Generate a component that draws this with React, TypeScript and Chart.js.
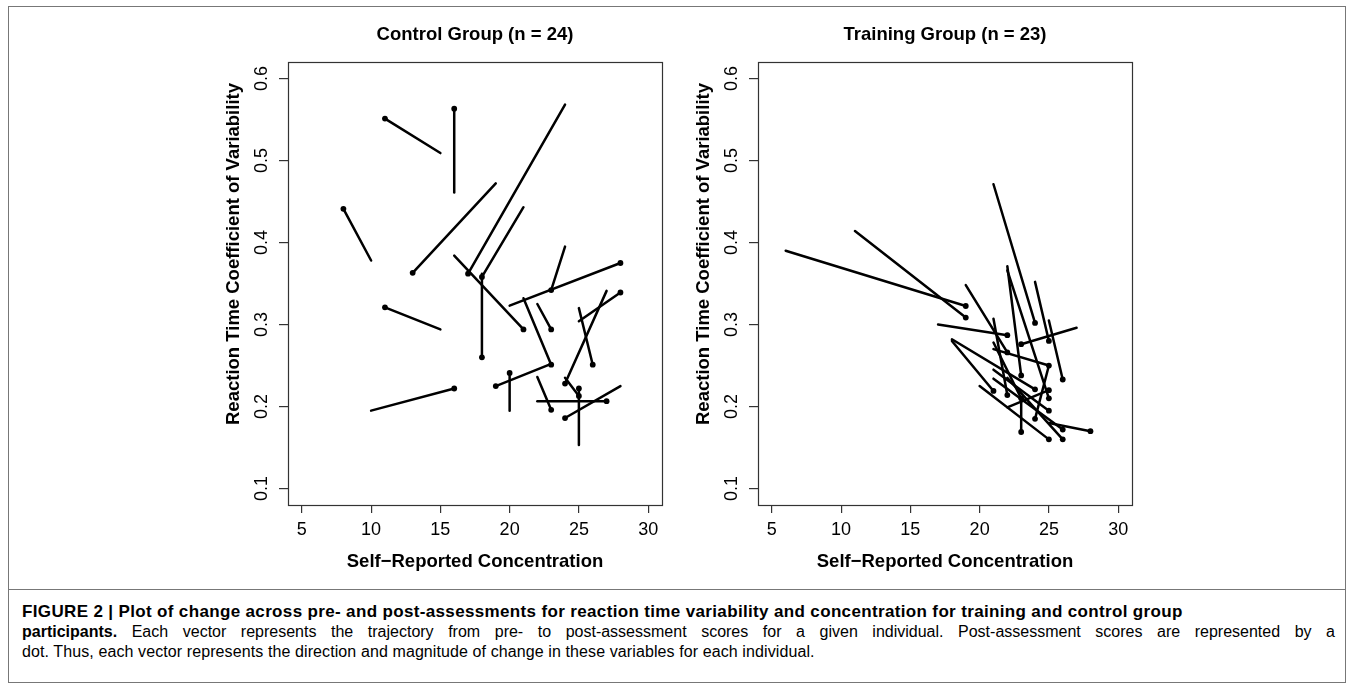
import React, { useEffect, useRef } from "react";
import { Chart, registerables } from "chart.js";

Chart.register(...registerables);

// ---- axis ticks ----
const xTicks = [5, 10, 15, 20, 25, 30];
const yTicks = [0.1, 0.2, 0.3, 0.4, 0.5, 0.6];
const yTickLabels = ["0.1", "0.2", "0.3", "0.4", "0.5", "0.6"];
const xTitle = "Self\u2212Reported Concentration";
const yTitle = "Reaction Time Coefficient of Variability";

// ---- Control group: pre (line start) -> post (dot) ----
const controlPreX = [15, 16, 10, 19, 24, 21, 16, 18, 15, 10, 20, 24, 21, 22, 23, 20, 22, 22, 28, 25, 25, 27, 24, 25];
const controlPreY = [0.509, 0.461, 0.378, 0.472, 0.568, 0.443, 0.384, 0.362, 0.294, 0.195, 0.323, 0.395, 0.332, 0.325, 0.252, 0.195, 0.236, 0.2065, 0.225, 0.304, 0.32, 0.341, 0.235, 0.153];
const controlPostX = [11, 16, 8, 13, 17, 18, 21, 18, 11, 16, 28, 23, 23, 23, 19, 20, 23, 27, 24, 28, 26, 24, 25, 25];
const controlPostY = [0.551, 0.563, 0.441, 0.363, 0.362, 0.358, 0.294, 0.26, 0.321, 0.222, 0.375, 0.342, 0.251, 0.294, 0.225, 0.241, 0.196, 0.2065, 0.186, 0.339, 0.251, 0.228, 0.213, 0.222];

// ---- Training group ----
const trainingPreX = [6, 11, 21, 19, 17, 21, 22, 22, 24, 27, 18, 18, 20, 23, 25, 21, 22, 25, 22, 21, 21, 25, 21];
const trainingPreY = [0.39, 0.414, 0.471, 0.348, 0.3, 0.307, 0.371, 0.366, 0.352, 0.296, 0.28, 0.282, 0.225, 0.21, 0.305, 0.245, 0.235, 0.18, 0.199, 0.234, 0.278, 0.25, 0.27];
const trainingPostX = [19, 19, 24, 22, 22, 22, 23, 25, 25, 23, 21, 24, 25, 23, 26, 25, 26, 28, 25, 26, 23, 24, 25];
const trainingPostY = [0.3226, 0.3085, 0.302, 0.266, 0.287, 0.214, 0.238, 0.21, 0.28, 0.276, 0.219, 0.221, 0.16, 0.169, 0.233, 0.195, 0.16, 0.17, 0.22, 0.172, 0.21, 0.185, 0.25];

const FONT = '"Liberation Sans", Arial, Helvetica, sans-serif';

function makeDatasets(px: number[], py: number[], qx: number[], qy: number[]) {
  return px.map((_, i) => ({
    data: [
      { x: px[i], y: py[i] },
      { x: qx[i], y: qy[i] },
    ],
    showLine: true,
    borderColor: "#000",
    backgroundColor: "#000",
    borderWidth: 2.5,
    borderCapStyle: "round" as const,
    tension: 0,
    pointRadius: [0, 2.9],
    pointBorderWidth: 0,
    pointHoverRadius: 0,
  }));
}

const textPlugin = {
  id: "rtext",
  afterDraw(chart: any) {
    const { ctx, chartArea: ca, scales } = chart;
    const title = chart.options.plugins.rtext.title;
    ctx.save();
    ctx.strokeStyle = "#333";
    ctx.lineWidth = 1.2;
    const l = Math.round(ca.left) + 0.5;
    const t = Math.round(ca.top) + 0.5;
    const r = Math.round(ca.right) + 0.5;
    const b = Math.round(ca.bottom) + 0.5;
    ctx.strokeRect(l, t, r - l, b - t);
    ctx.fillStyle = "#000";
    ctx.textAlign = "center";
    ctx.textBaseline = "middle";
    ctx.font = `18px ${FONT}`;
    xTicks.forEach((v) => {
      ctx.fillText(String(v), scales.x.getPixelForValue(v), ca.bottom + 25);
    });
    yTicks.forEach((v, i) => {
      const yy = scales.y.getPixelForValue(v);
      ctx.save();
      ctx.translate(ca.left - 26, yy);
      ctx.rotate(-Math.PI / 2);
      ctx.fillText(yTickLabels[i], 0, 0);
      ctx.restore();
    });
    ctx.font = `bold 18.5px ${FONT}`;
    const cx = (ca.left + ca.right) / 2;
    ctx.fillText(title, cx, ca.top - 27);
    ctx.fillText(xTitle, cx, ca.bottom + 57);
    ctx.save();
    ctx.translate(ca.left - 54, ca.top + 192);
    ctx.rotate(-Math.PI / 2);
    ctx.fillText(yTitle, 0, 0);
    ctx.restore();
    ctx.restore();
  },
};

function makeConfig(title: string, px: number[], py: number[], qx: number[], qy: number[]): any {
  return {
    type: "scatter",
    data: { datasets: makeDatasets(px, py, qx, qy) },
    plugins: [textPlugin],
    options: {
      responsive: false,
      animation: false,
      events: [],
      layout: { padding: { top: 52, right: 18, left: 0, bottom: 0 } },
      plugins: {
        legend: { display: false },
        tooltip: { enabled: false },
        title: { display: false },
        rtext: { title },
      },
      scales: {
        x: {
          type: "linear",
          min: 4,
          max: 31,
          afterBuildTicks: (s: any) => {
            s.ticks = xTicks.map((v) => ({ value: v }));
          },
          afterFit: (s: any) => {
            s.height = 75;
          },
          ticks: { display: false },
          border: { display: false },
          grid: { display: true, drawOnChartArea: false, drawTicks: true, tickLength: 8, color: "#333", lineWidth: 1.2 },
        },
        y: {
          type: "linear",
          min: 0.08,
          max: 0.62,
          afterBuildTicks: (s: any) => {
            s.ticks = yTicks.map((v) => ({ value: v }));
          },
          afterFit: (s: any) => {
            s.width = 98;
          },
          ticks: { display: false },
          border: { display: false },
          grid: { display: true, drawOnChartArea: false, drawTicks: true, tickLength: 9, color: "#333", lineWidth: 1.2 },
        },
      },
    },
  };
}

function Panel(props: { left: number; title: string; px: number[]; py: number[]; qx: number[]; qy: number[] }) {
  const ref = useRef<HTMLCanvasElement>(null);
  useEffect(() => {
    if (!ref.current) return;
    const chart = new Chart(ref.current, makeConfig(props.title, props.px, props.py, props.qx, props.qy));
    return () => chart.destroy();
  }, []);
  return (
    <canvas
      ref={ref}
      width={490}
      height={570}
      style={{ position: "absolute", left: props.left, top: 10, width: 490, height: 570 }}
    />
  );
}

const lineStyle: React.CSSProperties = { whiteSpace: "nowrap", height: 20 };
const justified: React.CSSProperties = { height: 20, textAlign: "justify", textAlignLast: "justify" } as React.CSSProperties;

export default function App() {
  return (
    <div style={{ position: "absolute", left: 0, top: 0, width: 1355, height: 693, background: "#fff", overflow: "hidden" }}>
      <div style={{ position: "absolute", left: 8, top: 6, width: 1338, height: 677, border: "1.5px solid #777", boxSizing: "border-box" }} />
      <div style={{ position: "absolute", left: 8, top: 589, width: 1338, height: 0, borderTop: "1.5px solid #777" }} />
      <Panel left={190} title="Control Group (n = 24)" px={controlPreX} py={controlPreY} qx={controlPostX} qy={controlPostY} />
      <Panel left={660} title="Training Group (n = 23)" px={trainingPreX} py={trainingPreY} qx={trainingPostX} qy={trainingPostY} />
      <div
        style={{
          position: "absolute",
          left: 22,
          top: 602,
          width: 1313,
          fontFamily: FONT,
          fontSize: 16,
          lineHeight: "20px",
          color: "#000",
        }}
      >
        <div style={{ ...lineStyle, fontWeight: "bold", fontSize: 17, letterSpacing: 0.35 }}>
          FIGURE 2 | Plot of change across pre- and post-assessments for reaction time variability and concentration for training and control group
        </div>
        <div style={justified}>
          <b>participants.</b> Each vector represents the trajectory from pre- to post-assessment scores for a given individual. Post-assessment scores are represented by a
        </div>
        <div style={{ ...lineStyle, letterSpacing: 0.1 }}>
          dot. Thus, each vector represents the direction and magnitude of change in these variables for each individual.
        </div>
      </div>
    </div>
  );
}
